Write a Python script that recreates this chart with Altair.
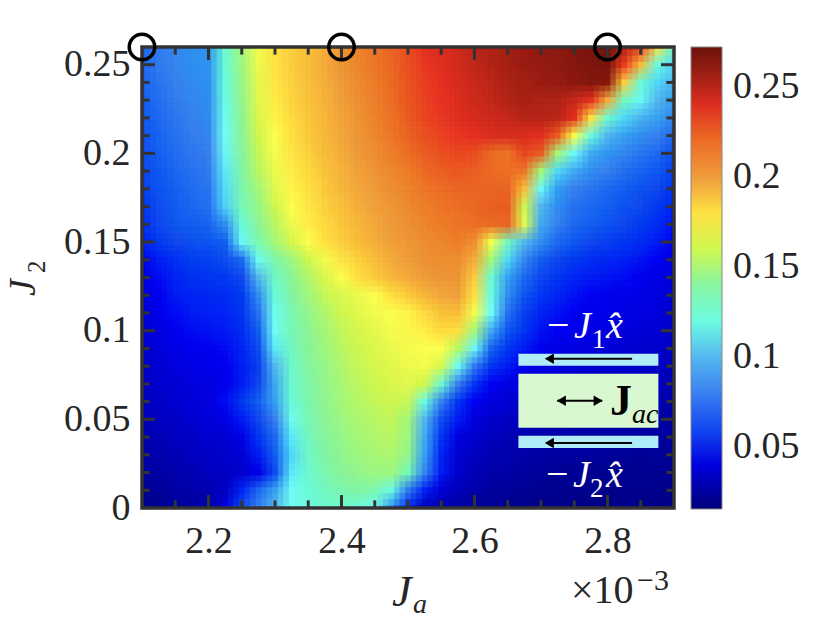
import altair as alt
import pandas as pd

ja_values = [2.1 + 0.025 * i for i in range(33)]
j2_values = [0.26 - 0.01 * i for i in range(27)]

r26 = [72,78,82,85,87,125,150,170,180,185,190,195,203,210,216,222,230,238,240,243,248,250,254,257,259,261,264,267,270,250,236,180,125]
r25 = [71,78,82,85,87,123,148,168,179,185,190,195,202,209,215,221,229,236,239,242,246,249,253,256,258,260,263,266,268,235,190,120,105]
r24 = [70,76,80,84,86,120,146,166,178,184,189,194,200,207,213,220,228,234,238,241,244,247,251,254,256,258,261,264,262,185,125,105,98]
r23 = [68,74,79,83,85,118,145,165,176,183,188,193,198,205,212,219,227,233,237,240,243,246,249,252,250,250,245,238,195,130,110,100,90]
r22 = [66,72,77,81,84,115,143,163,175,182,187,192,197,203,210,217,225,232,236,239,241,243,245,248,248,247,238,180,125,105,98,92,82]
r21 = [64,70,75,79,82,112,142,160,172,180,186,191,196,202,208,215,222,229,233,236,238,240,241,240,239,225,170,120,100,92,85,80,72]
r20 = [62,68,73,77,80,110,140,158,170,178,184,190,195,200,206,212,218,225,229,232,230,220,216,232,225,150,110,95,88,82,76,72,62]
r19 = [60,66,71,75,78,108,138,155,168,176,182,188,193,198,203,208,213,220,224,226,224,220,218,215,150,105,95,85,80,74,70,66,58]
r18 = [58,64,69,73,76,106,135,150,165,174,180,186,191,196,200,205,210,215,219,222,222,222,222,190,110,90,80,76,72,68,64,60,54]
r17 = [55,62,67,71,74,104,132,146,160,172,178,184,189,194,198,202,207,212,216,219,221,224,225,160,100,85,75,72,68,64,60,56,50]
r16 = [53,60,65,68,70,85,122,142,155,168,176,182,187,192,196,200,204,209,213,216,218,220,222,165,95,80,72,68,64,60,56,52,47]
r15 = [50,56,60,63,65,68,110,135,150,162,172,180,185,190,194,198,202,206,209,213,205,170,130,100,85,72,65,60,58,55,52,48,44]
r14 = [43,49,53,57,58,62,72,115,135,148,160,170,178,184,190,195,199,203,206,205,195,150,105,82,68,60,56,53,51,49,47,45,41]
r13 = [41,46,50,53,54,56,60,100,128,142,153,163,172,180,186,191,195,199,202,203,185,125,92,72,60,54,50,48,47,46,44,42,39]
r12 = [40,44,48,50,51,52,56,85,122,138,149,158,163,168,172,180,186,192,196,198,180,120,85,65,55,50,47,45,44,43,42,40,37]
r11 = [39,43,46,48,49,50,54,75,115,134,145,153,160,165,169,172,174,182,188,190,170,112,75,58,50,47,45,44,43,42,41,40,36]
r10 = [38,41,44,46,47,48,52,68,112,132,143,150,157,162,166,170,173,176,182,180,150,95,65,54,47,45,44,42,41,40,39,38,35]
r09 = [36,39,42,44,45,46,50,62,108,130,141,148,155,160,164,167,170,172,172,155,110,70,55,48,44,42,41,40,39,38,37,36,33]
r08 = [35,38,40,42,43,44,48,58,100,127,139,146,153,158,162,165,168,170,162,115,78,55,48,44,41,39,38,37,36,36,35,34,31]
r07 = [34,36,38,40,41,43,48,60,95,125,137,145,151,156,160,163,165,160,125,80,55,45,42,39,37,36,35,35,34,33,33,32,30]
r06 = [33,35,37,39,41,46,56,68,92,122,136,144,150,154,158,160,158,120,80,55,45,40,38,36,34,33,32,32,31,31,30,30,28]
r05 = [31,33,35,37,39,42,48,60,80,115,134,142,148,152,155,157,150,100,62,48,40,36,34,32,31,30,30,29,29,28,28,27,26]
r04 = [29,31,33,35,37,38,42,55,72,108,130,140,146,150,153,155,148,95,55,42,36,33,31,30,28,28,27,27,26,26,25,25,24]
r03 = [27,29,31,33,35,36,38,48,68,105,128,138,144,148,151,152,145,92,50,38,33,30,29,27,26,26,25,25,24,24,23,24,23]
r02 = [25,27,29,31,33,34,36,42,62,108,125,135,141,145,148,148,132,82,48,36,31,28,27,25,24,23,23,22,22,22,23,22,22]
r01 = [22,24,26,28,29,34,50,72,92,112,123,130,135,138,135,118,78,50,38,32,28,25,24,23,22,22,21,21,20,21,21,21,20]
r00 = [20,22,24,25,27,42,62,80,100,112,120,125,125,122,112,85,50,32,28,26,24,23,22,21,20,20,20,19,19,20,20,19,19]
rows = [r26,r25,r24,r23,r22,r21,r20,r19,r18,r17,r16,r15,r14,r13,r12,r11,r10,r09,r08,r07,r06,r05,r04,r03,r02,r01,r00]

color_domain = [0.0156, 0.045, 0.06, 0.08, 0.10, 0.111, 0.14, 0.16, 0.172, 0.2, 0.237, 0.25, 0.272]
color_range = ["#00007a", "#0000f5", "#1248f0", "#3a80f0", "#55b8f0", "#75fdf8", "#88f5a0", "#d0f850",
               "#fdfe50", "#ef9c3c", "#ea3323", "#b02418", "#6e120b"]

x_major = [2.2, 2.4, 2.6, 2.8]
x_minor = [2.15, 2.25, 2.3, 2.35, 2.45, 2.5, 2.55, 2.65, 2.7, 2.75, 2.85]
y_major = [0.05, 0.1, 0.15, 0.2, 0.25]
y_minor = [0.01, 0.02, 0.03, 0.04, 0.06, 0.07, 0.08, 0.09, 0.11, 0.12, 0.13, 0.14, 0.16, 0.17, 0.18, 0.19, 0.21, 0.22, 0.23, 0.24]
circle_ja = [2.1, 2.4, 2.8]
legend_ticks = [0.05, 0.1, 0.15, 0.2, 0.25]
legend_tick_px = [447, 358, 268, 177, 87]

W, H = 532, 461
XS = alt.Scale(domain=[2.1, 2.9], nice=False, zero=False)
YS = alt.Scale(domain=[0, 0.26], nice=False, zero=False)
FONT = "Liberation Serif"
INK = "#333333"
TXT = "#262626"
AX = alt.Axis(values=x_major, format=".1f", ticks=False, domain=False, grid=False, title=None,
              labelFont=FONT, labelFontSize=38, labelColor=TXT, labelPadding=14)
AY = alt.Axis(values=[0] + y_major, format=".2~f", ticks=False, domain=False, grid=False, title=None,
              labelFont=FONT, labelFontSize=38, labelColor=TXT, labelPadding=12)
CS = alt.Scale(domain=color_domain, range=color_range)

heat_df = pd.DataFrame([{"ja": ja, "j2": j2, "v": v / 1000}
                        for j2, row in zip(j2_values, rows) for ja, v in zip(ja_values, row)])
assert all(len(r) == 33 for r in rows)

LEG = alt.Legend(orient="none", legendX=549, legendY=0, title=None, values=legend_ticks,
                 format=".2~f", gradientLength=462, gradientThickness=31,
                 gradientStrokeColor="#888888", gradientStrokeWidth=1,
                 labelFont=FONT, labelFontSize=38, labelColor=TXT, labelOffset=11)

# Several rendering passes of the same cells, each nudged a fraction of a cell and
# averaged through opacity, so the grid reads as smoothly as the reference's shading.
passes = []
shifts = [(0, 0), (-1, -1), (0, -1), (1, -1), (-1, 0), (1, 0), (-1, 1), (0, 1), (1, 1)]
for k, (sx, sy) in enumerate(shifts, start=1):
    dx, dy = sx * 0.025 / 3, sy * 0.01 / 3
    base = alt.Chart(heat_df).transform_calculate(
        x0=f"datum.ja - 0.0125 + {dx}", x1=f"datum.ja + 0.0125 + {dx}",
        y0=f"datum.j2 - 0.005 + {dy}", y1=f"datum.j2 + 0.005 + {dy}")
    enc = dict(x=alt.X("x0:Q", scale=XS, axis=AX), x2="x1:Q", y=alt.Y("y0:Q", scale=YS, axis=AY), y2="y1:Q")
    if k == 1:
        passes.append(base.mark_rect(clip=True, strokeWidth=0.6).encode(
            color=alt.Color("v:Q", scale=CS, legend=LEG),
            stroke=alt.Color("v:Q", scale=CS, legend=None), **enc))
    else:
        passes.append(base.mark_rect(clip=True, opacity=1 / k).encode(
            color=alt.Color("v:Q", scale=CS, legend=None), **enc))

# tick lengths in axis units: about 13 px (major) and 7.5 px (minor), partly under the frame
XLEN_MAJOR, XLEN_MINOR = 0.0195, 0.0115
YLEN_MAJOR, YLEN_MINOR = 0.0073, 0.0043
XMIN, XMAX, YMIN, YMAX = 2.1, 2.9, 0.0, 0.26


def tick_layer(vals, horizontal, a0, a1):
    if horizontal:
        df = pd.DataFrame({"y": vals, "x0": [a0] * len(vals), "x1": [a1] * len(vals)})
        enc = dict(x=alt.X("x0:Q", scale=XS, axis=AX), x2="x1:Q", y=alt.Y("y:Q", scale=YS, axis=AY))
    else:
        df = pd.DataFrame({"x": vals, "y0": [a0] * len(vals), "y1": [a1] * len(vals)})
        enc = dict(x=alt.X("x:Q", scale=XS, axis=AX), y=alt.Y("y0:Q", scale=YS, axis=AY), y2="y1:Q")
    return alt.Chart(df).mark_rule(color=INK, strokeWidth=3, opacity=1).encode(**enc)


ticks = [
    tick_layer(x_major, False, YMIN, YMIN + YLEN_MAJOR), tick_layer(x_minor, False, YMIN, YMIN + YLEN_MINOR),
    tick_layer(x_major, False, YMAX, YMAX - YLEN_MAJOR), tick_layer(x_minor, False, YMAX, YMAX - YLEN_MINOR),
    tick_layer(y_major, True, XMIN, XMIN + XLEN_MAJOR), tick_layer(y_minor, True, XMIN, XMIN + XLEN_MINOR),
    tick_layer(y_major, True, XMAX, XMAX - XLEN_MAJOR), tick_layer(y_minor, True, XMAX, XMAX - XLEN_MINOR),
]

frame = alt.Chart(pd.DataFrame({"a": [0]})).mark_rect(fill=None, stroke=INK, strokeWidth=3.5).encode(
    x=alt.value(0), x2=alt.value(W), y=alt.value(0), y2=alt.value(H))

cb_ticks = [alt.Chart(pd.DataFrame({"a": [0]})).mark_rule(color=INK, strokeWidth=1.2).encode(
    x=alt.value(576), x2=alt.value(580), y=alt.value(p - 47)) for p in legend_tick_px]

inset_rects = pd.DataFrame({
    "x0": [2.666, 2.666, 2.666], "x1": [2.8765, 2.8765, 2.8765],
    "y0": [0.0802, 0.0452, 0.0339], "y1": [0.087, 0.0757, 0.0407],
    "c": ["#b0ecf8", "#d9f7d0", "#b0ecf8"],
})
inset = alt.Chart(inset_rects).mark_rect().encode(
    x=alt.X("x0:Q", scale=XS, axis=AX), x2="x1:Q",
    y=alt.Y("y0:Q", scale=YS, axis=AY), y2="y1:Q",
    color=alt.Color("c:N", scale=None, legend=None))

arrow_rules = pd.DataFrame({"x0": [2.714, 2.714, 2.7245], "x1": [2.837, 2.837, 2.792], "y": [0.0842, 0.0367, 0.0605]})
arrows = alt.Chart(arrow_rules).mark_rule(color="black", strokeWidth=2).encode(
    x=alt.X("x0:Q", scale=XS, axis=AX), x2="x1:Q", y=alt.Y("y:Q", scale=YS, axis=AY))
left_heads = alt.Chart(pd.DataFrame({"x": [2.7125, 2.7125, 2.7306], "y": [0.0842, 0.0367, 0.0605]})).mark_point(
    shape="triangle-left", filled=True, color="black", opacity=1, size=110).encode(
    x=alt.X("x:Q", scale=XS, axis=AX), y=alt.Y("y:Q", scale=YS, axis=AY))
right_heads = alt.Chart(pd.DataFrame({"x": [2.786], "y": [0.0605]})).mark_point(
    shape="triangle-right", filled=True, color="black", opacity=1, size=110).encode(
    x=alt.X("x:Q", scale=XS, axis=AX), y=alt.Y("y:Q", scale=YS, axis=AY))

circles = alt.Chart(pd.DataFrame({"x": circle_ja, "y": [0.26, 0.26, 0.26]})).mark_point(
    shape="circle", filled=False, color="black", opacity=1, size=650, strokeWidth=3.5, clip=False).encode(
    x=alt.X("x:Q", scale=XS, axis=AX), y=alt.Y("y:Q", scale=YS, axis=AY))


def txt(s, x, y, size=38, color="white", style="normal", weight="normal", align="left", angle=0):
    return alt.Chart(pd.DataFrame({"a": [0]})).mark_text(
        text=s, font=FONT, fontSize=size, color=color, fontStyle=style, fontWeight=weight,
        align=align, baseline="alphabetic", angle=angle).encode(
        x=alt.value(x - 142), y=alt.value(y - 47))


labels = [
    txt("\u2212", 547, 338, size=40), txt("J", 574, 338, style="italic"), txt("1", 592, 348, size=27), txt("x\u0302", 606, 338, style="italic"),
    txt("\u2212", 546, 487, size=40), txt("J", 573, 487, style="italic"), txt("2", 590, 497, size=27), txt("x\u0302", 606, 487, style="italic"),
    txt("J", 610, 415, size=44, color="black", weight="bold"), txt("ac", 632, 423, size=28, color="black", style="italic"),
    txt("J", 392, 606, size=44, color=TXT, style="italic"), txt("a", 413, 613, size=28, color=TXT, style="italic"),
    txt("J", 35, 296, color=TXT, style="italic", angle=270), txt("2", 45, 273, size=25, color=TXT, angle=270),
    txt("\u00d710", 571, 603, size=40, color=TXT), txt("\u22123", 637, 590, size=30, color=TXT),
]

chart = alt.layer(*passes, inset, *ticks, frame, *cb_ticks, arrows, left_heads, right_heads, circles, *labels).properties(
    width=W, height=H,
    padding={"left": 134, "top": 39, "right": 148, "bottom": 112},
    autosize=alt.AutoSizeParams(type="none"),
).resolve_scale(color="independent").configure_view(stroke=None)

chart.save("out.html", embed_options={"renderer": "svg", "actions": False})
